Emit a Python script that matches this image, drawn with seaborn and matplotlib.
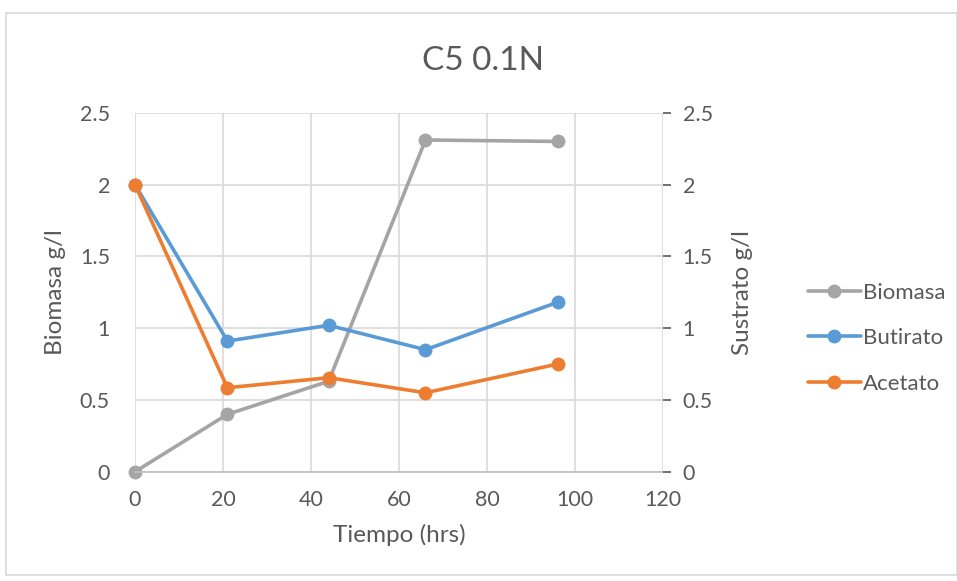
import matplotlib
matplotlib.use("Agg")
import matplotlib.pyplot as plt
import seaborn as sns
import pandas as pd
from matplotlib.patches import Rectangle

sns.set_theme(style="white")
plt.rcParams['font.family'] = ['Lato', 'DejaVu Sans']

tiempo = [0, 21, 44, 66, 96]
biomasa = [0.0, 0.40, 0.63, 2.31, 2.30]
butirato = [2.0, 0.91, 1.02, 0.85, 1.18]
acetato = [2.0, 0.585, 0.655, 0.55, 0.75]
x_ticks = [0, 20, 40, 60, 80, 100, 120]
y_ticks = [0, 0.5, 1, 1.5, 2, 2.5]
y_tick_labels = ["0", "0.5", "1", "1.5", "2", "2.5"]

c_gray = "#A5A5A5"
c_blue = "#5B9BD5"
c_orange = "#ED7D31"
txt = "#595959"
grid = "#D9D9D9"

df_bio = pd.DataFrame({"t": tiempo, "v": biomasa})
df_but = pd.DataFrame({"t": tiempo, "v": butirato})
df_ace = pd.DataFrame({"t": tiempo, "v": acetato})

fig = plt.figure(figsize=(9.57, 5.81), dpi=100)
fig.patch.set_facecolor("white")
fig.patches.append(Rectangle((0.006, 0.01), 0.994, 0.968, transform=fig.transFigure,
                             fill=False, edgecolor="#D9D9D9", linewidth=1.2))
ax = fig.add_axes([0.141, 0.188, 0.552, 0.618])
ax2 = ax.twinx()

kw = dict(marker="o", markersize=10, linewidth=2.6, markeredgewidth=0, clip_on=False)
sns.lineplot(data=df_bio, x="t", y="v", ax=ax, color=c_gray, label="Biomasa", legend=False, **kw)
sns.lineplot(data=df_but, x="t", y="v", ax=ax2, color=c_blue, label="Butirato", legend=False, **kw)
sns.lineplot(data=df_ace, x="t", y="v", ax=ax2, color=c_orange, label="Acetato", legend=False, **kw)

for a in (ax, ax2):
    a.set_ylim(0, 2.5)
    a.set_xlim(0, 120)
    a.set_yticks(y_ticks)
    a.set_yticklabels(y_tick_labels)
    for s in a.spines.values():
        s.set_visible(False)
    a.set_facecolor("none")

ax.set_xticks(x_ticks)
ax.grid(True, color=grid, linewidth=1.2)
ax.set_axisbelow(True)
ax.spines["bottom"].set_visible(True)
ax.spines["bottom"].set_color("#BFBFBF")
ax.spines["bottom"].set_linewidth(1.2)
ax.tick_params(axis="both", colors=txt, labelsize=15.5, length=0)
ax.tick_params(axis="x", pad=13)
ax.tick_params(axis="y", pad=18)
ax2.tick_params(axis="y", colors=txt, labelsize=15.5, length=6, width=1.2, pad=8)
for t in ax2.yaxis.get_ticklines():
    t.set_color("#BFBFBF")
ax2.spines["right"].set_visible(False)

ax.set_xlabel("Tiempo (hrs)", color=txt, fontsize=17.5, labelpad=10)
ax.set_ylabel("Biomasa g/l", color=txt, fontsize=17.5, labelpad=10)
ax2.set_ylabel("Sustrato g/l", color=txt, fontsize=17.5, labelpad=14)
fig.text(0.505, 0.895, "C5 0.1N", color=txt, fontsize=24, ha="center", va="center")

h1, l1 = ax.get_legend_handles_labels()
h2, l2 = ax2.get_legend_handles_labels()
leg = fig.legend(h1 + h2, l1 + l2, loc="center left", bbox_to_anchor=(0.823, 0.418),
                 frameon=False, fontsize=16, handlelength=2.4, handletextpad=0.1,
                 labelspacing=1.15, labelcolor=txt)

fig.savefig("out.png", dpi=100, facecolor="white")
